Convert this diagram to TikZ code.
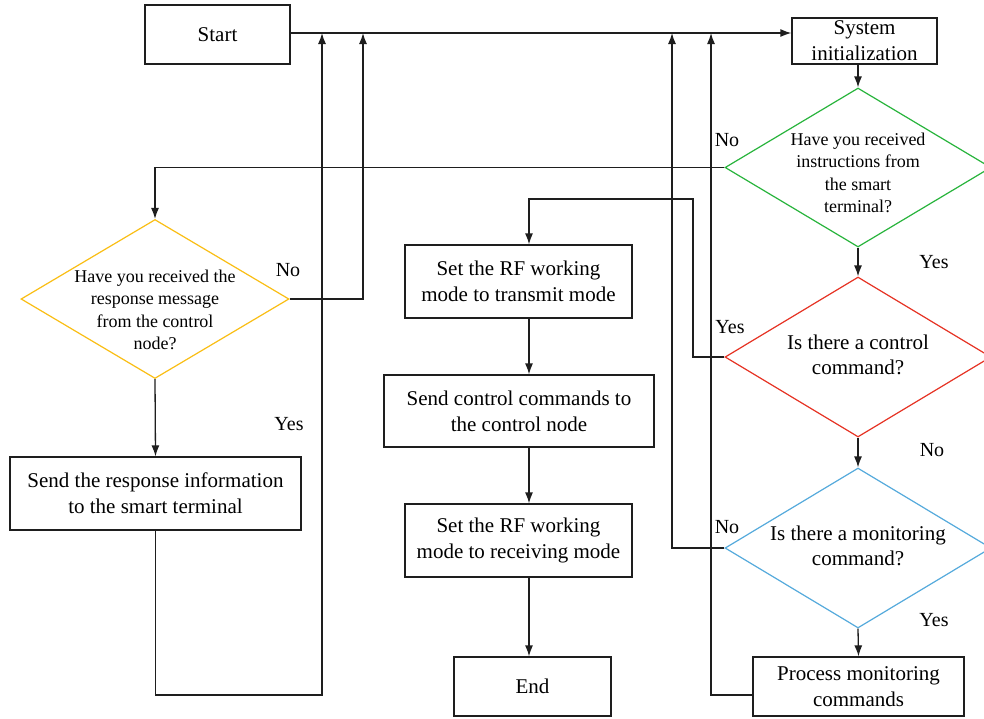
\documentclass[tikz,border=0pt]{standalone}
\usepackage{fontspec}
\setmainfont{Liberation Serif}
\usetikzlibrary{shapes.geometric,arrows.meta}
\definecolor{cgreen}{RGB}{40,180,60}
\definecolor{cyellow}{RGB}{250,190,20}
\definecolor{cred}{RGB}{230,50,35}
\definecolor{cblue}{RGB}{85,170,220}
\definecolor{cline}{RGB}{30,30,30}
\begin{document}
\begin{tikzpicture}[x=1pt,y=-1pt,
  box/.style={draw=cline, line width=1.3pt, inner sep=0pt, font=\fontsize{21}{26}\selectfont, align=center},
  dia/.style={shape=diamond, draw, line width=1.2pt, inner sep=0pt},
  dtext/.style={font=\fontsize{18}{22.5}\selectfont, align=center, inner sep=0pt},
  btext/.style={font=\fontsize{21}{25.5}\selectfont, align=center, inner sep=0pt},
  lbl/.style={font=\fontsize{20}{24}\selectfont, inner sep=0pt},
  conn/.style={draw=cline, line width=1.3pt},
  arr/.style={conn, -{Latex[length=11pt,width=8pt]}}]
\fill[white] (0,0) rectangle (984,718);
\useasboundingbox (0,0) rectangle (984,718);
% boxes
\node[box, minimum width=145pt, minimum height=59pt] (start) at (217.5,34.5) {Start};
\node[box, minimum width=145pt, minimum height=46pt] (sys) at (864.5,41) {System\\initialization};
\node[box, minimum width=291pt, minimum height=73pt] (resp) at (155.5,493.5) {Send the response information\\to the smart terminal};
\node[box, minimum width=227pt, minimum height=73pt] (tx) at (518.5,281.5) {Set the RF working\\mode to transmit mode};
\node[box, minimum width=270pt, minimum height=72pt] (sc) at (519,411) {Send control commands to\\the control node};
\node[box, minimum width=227pt, minimum height=73pt] (rx) at (518.5,540.5) {Set the RF working\\mode to receiving mode};
\node[box, minimum width=157pt, minimum height=59pt] (end) at (532.5,686.5) {End};
\node[box, minimum width=211pt, minimum height=59pt] (proc) at (858.5,686.5) {Process monitoring\\commands};
% diamonds
\node[dia, draw=cgreen, minimum width=266pt, minimum height=159pt] (gd) at (858,167.5) {};
\node[dia, draw=cyellow, minimum width=268pt, minimum height=159pt] (yd) at (155,299) {};
\node[dia, draw=cred, minimum width=266pt, minimum height=160pt] (rd) at (858,357) {};
\node[dia, draw=cblue, minimum width=266pt, minimum height=160pt] (bd) at (858,548) {};
\node[dtext] (gt) at (858,173) {Have you received\\instructions from\\the smart\\terminal?};
\node[dtext] (yt) at (155,310) {Have you received the\\response message\\from the control\\node?};
\node[btext] (rt) at (858,355) {Is there a control\\command?};
\node[btext] (bt) at (858,546) {Is there a monitoring\\command?};
% labels
\node[lbl] (l1) at (727,140) {No};
\node[lbl] (l2) at (934,262) {Yes};
\node[lbl] (l3) at (730,327) {Yes};
\node[lbl] (l4) at (932,450) {No};
\node[lbl] (l5) at (727,527) {No};
\node[lbl] (l6) at (934,620) {Yes};
\node[lbl] (l7) at (288,270) {No};
\node[lbl] (l8) at (289,424) {Yes};
% helper coordinates
\coordinate (ty) at (0,33);
\coordinate (bot) at (0,695);
\coordinate (xa) at (322,0);
\coordinate (xb) at (363,0);
\coordinate (xc) at (672,0);
\coordinate (xd) at (711,0);
\coordinate (xe) at (693,199);
\coordinate (mx) at (529,0);
% connectors
\draw[arr] (start.east |- ty) -- (sys.west |- ty);
\draw[arr] (sys.south -| gd.north) -- (gd.north);
\draw[arr] (gd.south) -- (rd.north);
\draw[arr] (rd.south) -- (bd.north);
\draw[arr] (bd.south) -- (proc.north);
\draw[arr] (gd.west) -| (yd.north);
\draw[arr] (yd.south) -- (resp.north);
\draw[arr] (yd.east) -| (xb |- ty);
\draw[arr] (resp.south) -- (resp.south |- bot) -| (xa |- ty);
\draw[arr] (bd.west) -| (xc |- ty);
\draw[arr] (proc.west |- bot) -| (xd |- ty);
\draw[arr] (rd.west) -| (xe) -| (tx.north -| mx);
\draw[arr] (tx.south -| mx) -- (sc.north -| mx);
\draw[arr] (sc.south -| mx) -- (rx.north -| mx);
\draw[arr] (rx.south -| mx) -- (end.north -| mx);
\end{tikzpicture}
\end{document}
